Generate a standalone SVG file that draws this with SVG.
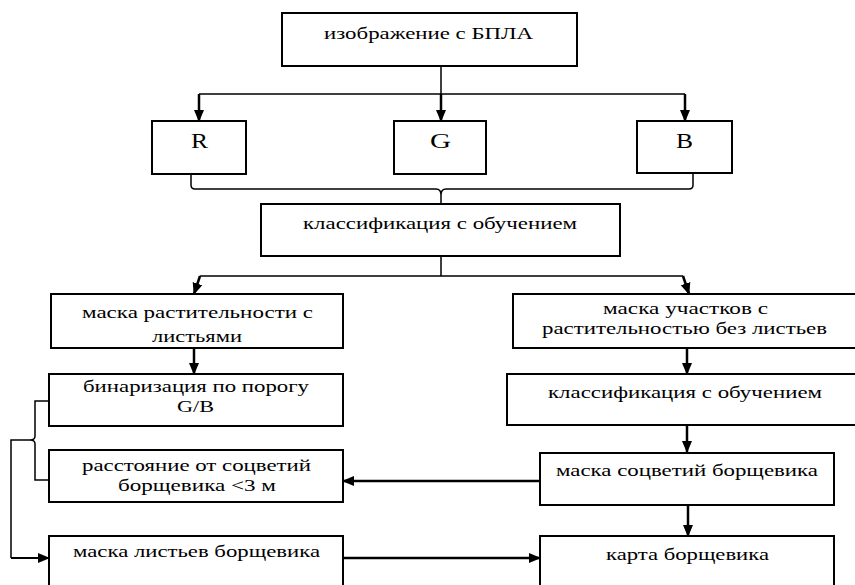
<svg xmlns="http://www.w3.org/2000/svg" width="855" height="585" viewBox="0 0 855 585">
<style>
.box{fill:#fff;stroke:#000;stroke-width:2}
.t{font-family:"Liberation Serif","Times New Roman",serif;font-size:17px;fill:#000}
.big{font-size:20px}
.ln{fill:none;stroke:#000;stroke-width:1.5}
.ar{fill:none;stroke:#000;stroke-width:2.5;marker-end:url(#ah)}
.ar2{fill:none;stroke:#000;stroke-width:2;marker-end:url(#ah)}
</style>
<defs>
<marker id="ah" markerWidth="12" markerHeight="12" refX="11" refY="6" orient="auto" markerUnits="userSpaceOnUse">
<path d="M0,1 L12,6 L0,11 Z" fill="#000"/>
</marker>
</defs>
<rect width="855" height="585" fill="#fff"/>
<g id="connectors">
<path class="ln" d="M441,66 V94 M199,94 H685"/>
<path class="ar" d="M199,94 V121"/>
<path class="ar" d="M441,94 V121"/>
<path class="ar" d="M685,94 V121"/>
<path class="ln" d="M191,174 V185 Q191,189 195,189 H436 Q441,189 441,195 Q441,189 446,189 H689 Q693,189 693,185 V173 M441,195 V204"/>
<path class="ln" d="M441,256 V276 M200,276 H683"/>
<path class="ar" d="M200,276 L194,294"/>
<path class="ar" d="M683,276 L689,294"/>
<path class="ar" d="M194,348 V374"/>
<path class="ln" d="M49,401 H35 V436 Q35,440 30,440 Q35,440 35,444 V480 H49 M30,440 H11 V558"/>
<path class="ar2" d="M11,558 H49"/>
<path class="ar" d="M540,481 H343"/>
<path class="ar" d="M343,558 H540"/>
<path class="ar" d="M687,348 V374"/>
<path class="ar" d="M687,425 V452"/>
<path class="ar" d="M688,505 V536"/>
</g>
<g id="n-image"><rect class="box" x="282" y="13" width="295" height="53"/><text class="t" x="324" y="39" textLength="209" lengthAdjust="spacingAndGlyphs">изображение с БПЛА</text></g>
<g id="n-r"><rect class="box" x="152" y="121" width="94" height="53"/><text class="t big" x="191" y="148" textLength="17" lengthAdjust="spacingAndGlyphs">R</text></g>
<g id="n-g"><rect class="box" x="394" y="121" width="92" height="53"/><text class="t big" x="430" y="148" textLength="21" lengthAdjust="spacingAndGlyphs">G</text></g>
<g id="n-b"><rect class="box" x="637" y="121" width="95" height="52"/><text class="t big" x="676" y="148" textLength="17" lengthAdjust="spacingAndGlyphs">B</text></g>
<g id="n-class1"><rect class="box" x="261" y="204" width="359" height="52"/><text class="t" x="303" y="229" textLength="274" lengthAdjust="spacingAndGlyphs">классификация с обучением</text></g>
<g id="n-leafmask"><rect class="box" x="51" y="294" width="292" height="54"/><text class="t" x="82" y="318" textLength="231" lengthAdjust="spacingAndGlyphs">маска растительности с</text><text class="t" x="152" y="342" textLength="90" lengthAdjust="spacingAndGlyphs">листьями</text></g>
<g id="n-binar"><rect class="box" x="49" y="374" width="294" height="52"/><text class="t" x="83" y="392" textLength="226" lengthAdjust="spacingAndGlyphs">бинаризация по порогу</text><text class="t" x="177" y="412" textLength="37" lengthAdjust="spacingAndGlyphs">G/B</text></g>
<g id="n-dist"><rect class="box" x="49" y="450" width="294" height="52"/><text class="t" x="82" y="471" textLength="229" lengthAdjust="spacingAndGlyphs">расстояние от соцветий</text><text class="t" x="118" y="491" textLength="158" lengthAdjust="spacingAndGlyphs">борщевика &lt;3 м</text></g>
<g id="n-leaves"><rect class="box" x="49" y="536" width="294" height="60"/><text class="t" x="73" y="557" textLength="247" lengthAdjust="spacingAndGlyphs">маска листьев борщевика</text></g>
<g id="n-noleaf"><rect class="box" x="513" y="294" width="350" height="54"/><text class="t" x="603" y="314" textLength="165" lengthAdjust="spacingAndGlyphs">маска участков с</text><text class="t" x="542" y="334" textLength="285" lengthAdjust="spacingAndGlyphs">растительностью без листьев</text></g>
<g id="n-class2"><rect class="box" x="507" y="374" width="356" height="51"/><text class="t" x="548" y="398" textLength="274" lengthAdjust="spacingAndGlyphs">классификация с обучением</text></g>
<g id="n-flowers"><rect class="box" x="540" y="453" width="294" height="52"/><text class="t" x="556" y="476" textLength="262" lengthAdjust="spacingAndGlyphs">маска соцветий борщевика</text></g>
<g id="n-map"><rect class="box" x="540" y="536" width="294" height="60"/><text class="t" x="606" y="560" textLength="163" lengthAdjust="spacingAndGlyphs">карта борщевика</text></g>
</svg>
